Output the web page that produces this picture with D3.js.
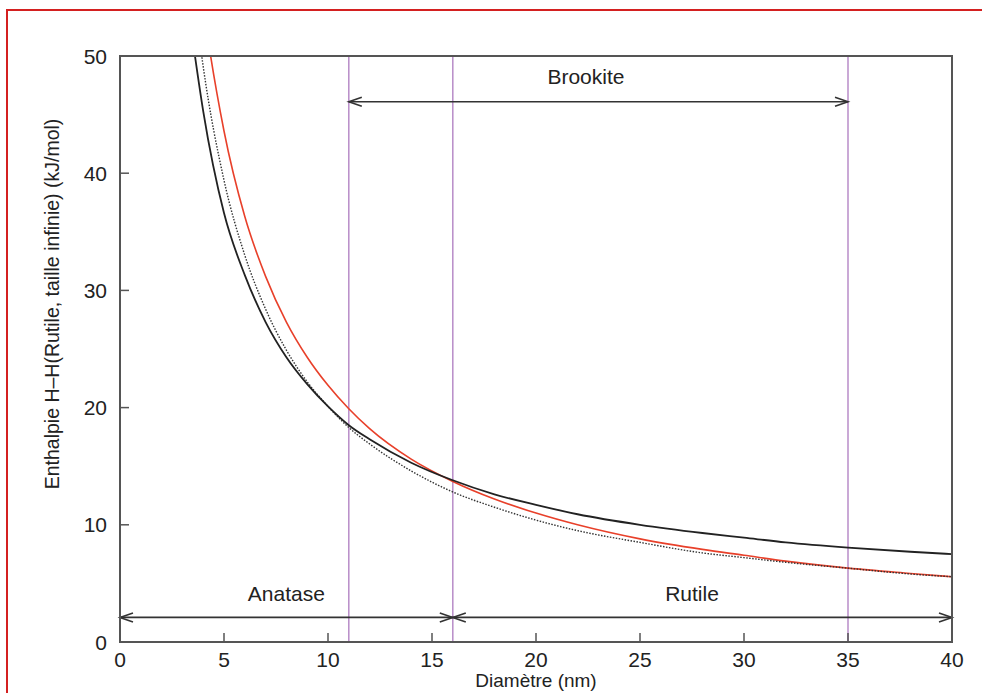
<!DOCTYPE html>
<html>
<head>
<meta charset="utf-8">
<script src="https://cdn.jsdelivr.net/npm/d3@7"></script>
<style>
  html, body { margin: 0; padding: 0; background: #fff; }
  svg { display: block; font-family: "Liberation Sans", Arial, sans-serif; }
</style>
</head>
<body>
<svg id="chart" width="982" height="693"></svg>
<script>
// valeurs
const diam = [3.5, 4, 5, 6, 7, 8, 9, 10, 11, 12, 14, 16, 18, 20, 22, 25, 28, 30, 32, 35, 38, 40];
const noirPlein = [51.3, 45.3, 36.6, 31.3, 27.3, 24.3, 22.0, 20.1, 18.5, 17.3, 15.3, 13.8, 12.6, 11.7, 10.9, 10.0, 9.3, 8.9, 8.5, 8.05, 7.7, 7.5];
const noirPointille = [56.0, 49.1, 39.4, 33.0, 28.4, 24.9, 22.2, 20.1, 18.3, 16.9, 14.6, 12.8, 11.5, 10.4, 9.5, 8.5, 7.6, 7.2, 6.8, 6.3, 5.8, 5.57];
const rouge = [62.1, 54.4, 43.6, 36.3, 31.2, 27.3, 24.3, 21.9, 19.9, 18.2, 15.6, 13.7, 12.2, 11.0, 10.0, 8.8, 7.9, 7.4, 6.9, 6.3, 5.85, 5.57];

const limites = [11, 16, 35];   // lignes verticales violettes
const xTicks = [0, 5, 10, 15, 20, 25, 30, 35, 40];
const yTicks = [0, 10, 20, 30, 40, 50];

// fleches des domaines de stabilite
const domaines = [
  { nom: "Anatase", x0: 0, x1: 16, yFleche: 2.1, xLabel: 8, yLabel: 3.5 },
  { nom: "Rutile", x0: 16, x1: 40, yFleche: 2.1, xLabel: 27.5, yLabel: 3.5 },
  { nom: "Brookite", x0: 11, x1: 35, yFleche: 46.1, xLabel: 22.4, yLabel: 47.6 }
];

const svg = d3.select("#chart");

// cadre rouge de la page
svg.append("path")
  .attr("d", "M7,700 L7,10 L990,10")
  .attr("fill", "none")
  .attr("stroke", "#d42020")
  .attr("stroke-width", 2);

const mLeft = 120, mRight = 952, mTop = 56, mBottom = 642;
const x = d3.scaleLinear().domain([0, 40]).range([mLeft, mRight]);
const y = d3.scaleLinear().domain([0, 50]).range([mBottom, mTop]);

svg.append("defs").append("clipPath").attr("id", "zone")
  .append("rect")
  .attr("x", mLeft).attr("y", mTop)
  .attr("width", mRight - mLeft).attr("height", mBottom - mTop);

// lignes verticales
svg.selectAll(".limite")
  .data(limites)
  .enter()
  .append("line")
  .attr("x1", d => x(d)).attr("x2", d => x(d))
  .attr("y1", y(50)).attr("y2", y(0))
  .attr("stroke", "#b88cc8")
  .attr("stroke-width", 1.5);

// courbes
const ligne = d3.line()
  .x(d => x(d[0]))
  .y(d => y(d[1]))
  .curve(d3.curveMonotoneX);

const courbes = [
  { vals: rouge, color: "#e8402a", dash: null, w: 1.6 },
  { vals: noirPointille, color: "#333", dash: "1.5,1.5", w: 1.4 },
  { vals: noirPlein, color: "#222", dash: null, w: 1.8 }
];

svg.append("g").attr("clip-path", "url(#zone)")
  .selectAll("path")
  .data(courbes)
  .enter()
  .append("path")
  .attr("d", c => ligne(diam.map((d, i) => [d, c.vals[i]])))
  .attr("fill", "none")
  .attr("stroke", c => c.color)
  .attr("stroke-width", c => c.w)
  .attr("stroke-dasharray", c => c.dash);

// fleches
function tete(xp, yp, dir) {
  const l = 13, h = 4.5;
  return `M${xp - dir * l},${yp - h} L${xp},${yp} L${xp - dir * l},${yp + h}`;
}

const g = svg.append("g");
domaines.forEach(d => {
  const yy = y(d.yFleche);
  g.append("line")
    .attr("x1", x(d.x0)).attr("x2", x(d.x1))
    .attr("y1", yy).attr("y2", yy)
    .attr("stroke", "#333").attr("stroke-width", 1.6);
  g.append("path").attr("d", tete(x(d.x0), yy, -1))
    .attr("fill", "none").attr("stroke", "#333").attr("stroke-width", 1.6);
  g.append("path").attr("d", tete(x(d.x1), yy, 1))
    .attr("fill", "none").attr("stroke", "#333").attr("stroke-width", 1.6);
  g.append("text")
    .attr("x", x(d.xLabel))
    .attr("y", y(d.yLabel))
    .attr("text-anchor", "middle")
    .attr("font-size", 21)
    .attr("fill", "#222")
    .text(d.nom);
});

// cadre et graduations
svg.append("rect")
  .attr("x", mLeft).attr("y", mTop)
  .attr("width", mRight - mLeft).attr("height", mBottom - mTop)
  .attr("fill", "none")
  .attr("stroke", "#555")
  .attr("stroke-width", 2);

svg.selectAll(".xt")
  .data(xTicks.slice(1, -1))
  .enter()
  .append("line")
  .attr("x1", d => x(d)).attr("x2", d => x(d))
  .attr("y1", mBottom).attr("y2", mBottom - 9)
  .attr("stroke", "#555").attr("stroke-width", 1.5);

svg.selectAll(".yt")
  .data(yTicks.slice(1, -1))
  .enter()
  .append("line")
  .attr("x1", mLeft).attr("x2", mLeft + 9)
  .attr("y1", d => y(d)).attr("y2", d => y(d))
  .attr("stroke", "#555").attr("stroke-width", 1.5);

svg.selectAll(".xl")
  .data(xTicks)
  .enter()
  .append("text")
  .attr("x", d => x(d))
  .attr("y", 667)
  .attr("text-anchor", "middle")
  .attr("font-size", 21)
  .attr("fill", "#222")
  .text(d => d);

svg.selectAll(".yl")
  .data(yTicks)
  .enter()
  .append("text")
  .attr("x", 107)
  .attr("y", d => y(d) + 7.5)
  .attr("text-anchor", "end")
  .attr("font-size", 21)
  .attr("fill", "#222")
  .text(d => d);

// titres des axes
svg.append("text")
  .attr("x", 536)
  .attr("y", 687)
  .attr("text-anchor", "middle")
  .attr("font-size", 19)
  .attr("fill", "#222")
  .text("Diamètre (nm)");

svg.append("text")
  .attr("transform", "translate(59,304) rotate(-90)")
  .attr("text-anchor", "middle")
  .attr("font-size", 19.5)
  .attr("fill", "#222")
  .text("Enthalpie H–H(Rutile, taille infinie) (kJ/mol)");
</script>
</body>
</html>
